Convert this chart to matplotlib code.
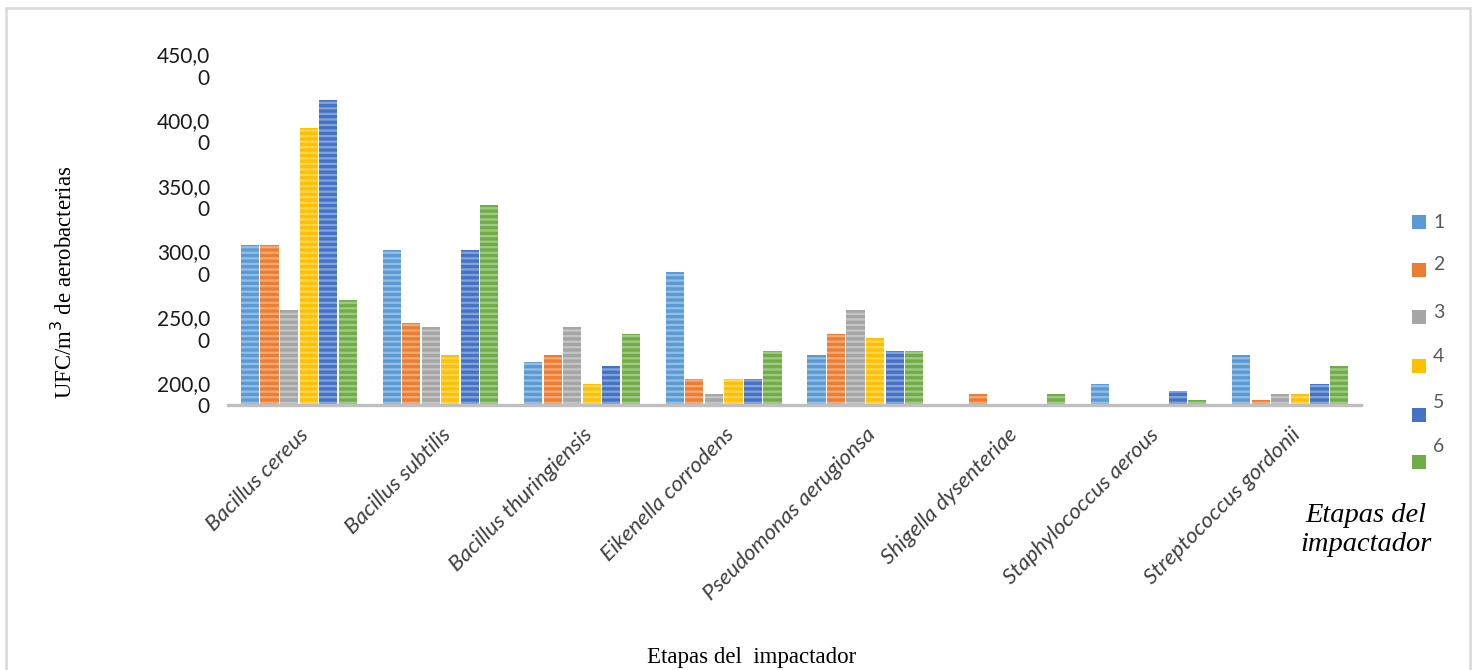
import matplotlib
matplotlib.use("Agg")
import matplotlib.pyplot as plt
import numpy as np
from matplotlib.patches import Rectangle
from matplotlib.colors import to_rgb
from matplotlib.transforms import ScaledTranslation

# ---- data -------------------------------------------------------------
species = [
    "Bacillus cereus", "Bacillus subtilis", "Bacillus thuringiensis",
    "Eikenella corrodens", "Pseudomonas aerugionsa", "Shigella dysenteriae",
    "Staphylococcus aerous", "Streptococcus gordonii",
]
stages = ["1", "2", "3", "4", "5", "6"]

stage_1 = [322, 318, 233, 301, 238, 0, 216, 238]
stage_2 = [322, 262, 238, 220, 254, 208, 0, 204]
stage_3 = [272, 259, 259, 208, 272, 0, 0, 208]
stage_4 = [411, 238, 216, 220, 251, 0, 0, 208]
stage_5 = [432, 318, 230, 220, 241, 0, 211, 216]
stage_6 = [280, 352, 254, 241, 241, 208, 204, 230]
series = [stage_1, stage_2, stage_3, stage_4, stage_5, stage_6]

yticks = [200, 250, 300, 350, 400, 450]
ytick_labels = ["200,0\n0", "250,0\n0", "300,0\n0", "350,0\n0", "400,0\n0", "450,0\n0"]

colors = ["#5B9BD5", "#ED7D31", "#A5A5A5", "#FFC000", "#4472C4", "#70AD47"]

# ---- figure -----------------------------------------------------------
W, H = 1476, 670
fig = plt.figure(figsize=(W / 100, H / 100), dpi=100)
fig.patch.set_facecolor("white")


def fx(x):
    return x / W


def fy(y):
    return 1 - y / H


ax = fig.add_axes([fx(228), fy(405), fx(1361) - fx(228), fy(50) - fy(405)])

plt.rcParams["hatch.linewidth"] = 1.6


def tint(c, k):
    r, g, b = to_rgb(c)
    return (r + (1 - r) * k, g + (1 - g) * k, b + (1 - b) * k, 0.7)


x = np.arange(len(species))
step = 0.138
bw = 0.128
for i, (vals, c) in enumerate(zip(series, colors)):
    offs = (i - 2.5) * step
    ax.bar(x + offs, vals, width=bw, facecolor=c, edgecolor=tint(c, 0.5),
           linewidth=0, hatch="---", zorder=2)

ax.set_xlim(-0.5, len(species) - 0.5)
ax.set_ylim(200, 470)
ax.set_yticks(yticks)
ax.set_yticklabels(ytick_labels, fontsize=15, family="Lato", color="#1a1a1a",
                   linespacing=1.15)
ax.tick_params(axis="y", length=0, pad=13)
shift = ScaledTranslation(0, 8.6 / 72, fig.dpi_scale_trans)
for lbl in ax.get_yticklabels():
    lbl.set_transform(lbl.get_transform() + shift)

ax.set_xticks(x)
ax.set_xticklabels(species, rotation=45, ha="right", va="top",
                   rotation_mode="anchor", fontsize=16, family="Lato",
                   style="italic", color="#404040")
ax.tick_params(axis="x", length=0, pad=14)

for s in ["top", "right", "left"]:
    ax.spines[s].set_visible(False)
ax.spines["bottom"].set_color("#bfbfbf")
ax.spines["bottom"].set_linewidth(2.4)
ax.spines["bottom"].set_zorder(3)

# axis titles
fig.text(fx(64), fy(282), "UFC/m$^3$ de aerobacterias", rotation=90,
         ha="center", va="center", fontsize=16.4, family="Liberation Serif")
fig.text(fx(752), fy(657), "Etapas del  impactador", ha="center",
         va="center", fontsize=16.5, family="Liberation Serif")
fig.text(fx(1366), fy(530), "Etapas del\nimpactador", ha="center",
         va="center", fontsize=20.5, family="Liberation Serif", style="italic",
         linespacing=1.25)

# legend
sq_y = [222, 270, 317, 366, 415, 462]
lab_y = [222, 265, 313, 356, 402, 447]
for lab, c, sy, ly in zip(stages, colors, sq_y, lab_y):
    fig.add_artist(Rectangle((fx(1412), fy(sy + 7)), fx(14), 14 / H,
                             transform=fig.transFigure, facecolor=c,
                             edgecolor="none"))
    fig.text(fx(1433), fy(ly), lab, ha="left", va="center", fontsize=14,
             family="Lato", color="#595959")

# outer frame
fig.add_artist(Rectangle((fx(6), fy(700)), fx(1470) - fx(6), fy(8) - fy(700),
                         transform=fig.transFigure, facecolor="none",
                         edgecolor="#d9d9d9", linewidth=1.8))

fig.savefig("out.png", dpi=100, facecolor="white")
